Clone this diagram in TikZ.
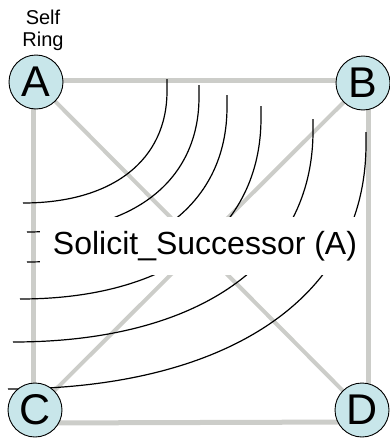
\documentclass[tikz,border=0pt]{standalone}
\usepackage{fontspec}
\setmainfont{Liberation Sans}
\usetikzlibrary{backgrounds}
\definecolor{edgegray}{RGB}{204,205,201}
\definecolor{nodecyan}{RGB}{200,230,234}
\begin{document}
\begin{tikzpicture}[x=1pt,y=-1pt,
  peer/.style={circle, draw=black, line width=0.9pt, fill=nodecyan, minimum size=54pt, inner sep=0pt, font=\fontsize{43}{43}\selectfont},
  ringedge/.style={draw=edgegray, line width=5pt},
  chord/.style={draw=edgegray, line width=4pt},
  wave/.style={draw=black, line width=1.2pt},
  labelbox/.style={fill=white, minimum width=322pt, minimum height=58pt, inner sep=0pt},
]
\useasboundingbox (0,0) rectangle (390,439);
\node[peer] (A) at (36,82) {A};
\node[peer] (B) at (363,83) {B};
\node[peer] (C) at (35,410) {C};
\node[peer] (D) at (362,410) {D};
\node[anchor=north, align=center, inner sep=0pt, font=\fontsize{20}{21.5}\selectfont] (self) at (43,10) {Self\\Ring};
\begin{pgfonlayer}{background}
  % square edges
  \draw[ringedge] ([yshift=2pt]A.center) -- ([yshift=3pt]B.center);
  \draw[ringedge] ([xshift=-3pt]A.center) -- ([xshift=-2pt]C.center);
  \draw[ringedge] ([xshift=5pt]B.center) -- ([xshift=6pt]D.center);
  \draw[ringedge] ([yshift=-13pt]C.center) -- ([yshift=-12pt]D.center);
  % diagonals
  \draw[chord] (A.center) -- (D.center);
  \draw[chord] (B.center) -- (C.center);
  % solicitation waves
  \draw[wave] (167,79) -- (167,91) .. controls (167,160.4) and (112.3,203) .. (23,203);
  \draw[wave] (199,85) -- (199,97) .. controls (199,180.7) and (133.6,232) .. (27,232);
  \draw[wave] (227,95) -- (227,107) .. controls (227,203.1) and (151,262) .. (27,262);
  \draw[wave] (261,106) -- (261,118) .. controls (261,230.2) and (169.4,299) .. (20,299);
  \draw[wave] (313,119) -- (313,131) .. controls (313,261.8) and (199,342) .. (13,342);
  \draw[wave] (366,132) -- (366,144) .. controls (366,295.9) and (230,389) .. (8,389);
  % label
  \node[labelbox] (box) at (201,246) {};
  \node[inner sep=0pt, font=\fontsize{32}{38}\selectfont] (lbl) at (205,246) {Solicit\_Successor (A)};
\end{pgfonlayer}
\end{tikzpicture}
\end{document}
